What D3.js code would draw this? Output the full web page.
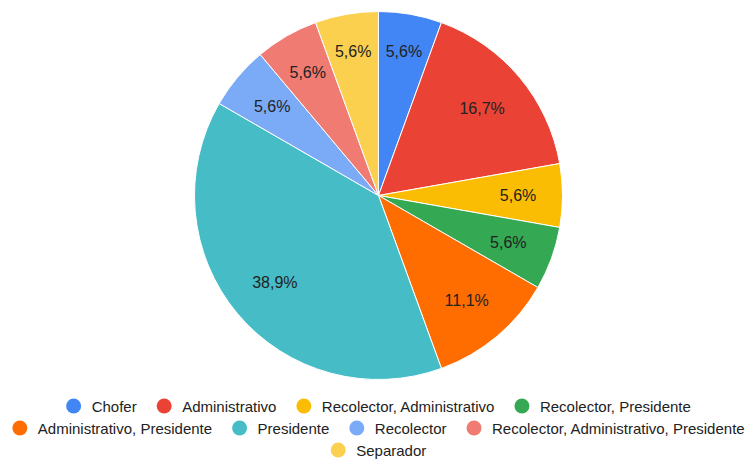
<!DOCTYPE html>
<html><head><meta charset="utf-8">
<script src="https://cdn.jsdelivr.net/npm/d3@7"></script>
<style>body{margin:0;background:#fff;}svg{display:block;font-family:"Liberation Sans",Arial,sans-serif;}</style>
</head><body>
<svg id="c" width="745" height="459"></svg>
<script>
const categories = ["Chofer","Administrativo","Recolector, Administrativo","Recolector, Presidente","Administrativo, Presidente","Presidente","Recolector","Recolector, Administrativo, Presidente","Separador"];
const values = [1,3,1,1,2,7,1,1,1];
const colors = ["#4285F4","#EA4335","#FBBC04","#34A853","#FF6D01","#46BDC6","#7BAAF7","#F07B72","#FCD04F"];

const W=745,H=459,cx=378.5,cy=195.5,R=184;
const svg=d3.select("#c");
const data=categories.map((c,i)=>({cat:c,v:values[i],col:colors[i]}));
const total=d3.sum(values);
const pie=d3.pie().value(d=>d.v).sort(null);
const arcs=pie(data);
const arc=d3.arc().innerRadius(0).outerRadius(R);
const g=svg.append("g").attr("transform",`translate(${cx},${cy})`);
g.selectAll("path").data(arcs).join("path").attr("d",arc).attr("fill",d=>d.data.col).attr("stroke","#fff").attr("stroke-width",1);
const fmt=v=>(v/total*100).toFixed(1).replace(".",",")+"%";
const lfs=16, D=R-26, hh=8;
const labels=g.selectAll("text").data(arcs).join("text")
 .attr("text-anchor","middle").attr("dominant-baseline","central")
 .attr("font-size",lfs).attr("fill","#222").text(d=>fmt(d.data.v));
labels.each(function(d){
  const hw=this.getComputedTextLength()/2;
  const a=(d.startAngle+d.endAngle)/2;
  const ux=Math.sin(a), uy=-Math.cos(a);
  const b=Math.abs(ux)*hw+Math.abs(uy)*hh;
  const c=hw*hw+hh*hh-D*D;
  const r=(-2*b+Math.sqrt(4*b*b-4*c))/2;
  d3.select(this).attr("transform",`translate(${ux*r},${uy*r})`);
});

// legend
const fs=15, cr=7.5, toff=18, gap=20, rowY=[406,428,450];
const meas=svg.append("text").attr("font-size",fs).attr("visibility","hidden");
const items=data.map(d=>{meas.text(d.cat);const tw=meas.node().getComputedTextLength();return {...d,w:cr+toff+tw};});
meas.remove();
const rows=[];let cur=[],cw=0;
items.forEach(it=>{const add=(cur.length?gap:0)+it.w;if(cur.length&&cw+add>W){rows.push(cur);cur=[it];cw=it.w;}else{cur.push(it);cw+=add;}});
if(cur.length)rows.push(cur);
const lg=svg.append("g");
rows.forEach((row,ri)=>{
  const rw=d3.sum(row,d=>d.w)+gap*(row.length-1);
  let x=cx-rw/2;
  row.forEach(it=>{
    lg.append("circle").attr("cx",x+cr).attr("cy",rowY[ri]).attr("r",cr).attr("fill",it.col);
    lg.append("text").attr("x",x+cr+toff).attr("y",rowY[ri]).attr("dominant-baseline","central").attr("font-size",fs).attr("fill","#222").text(it.cat);
    x+=it.w+gap;
  });
});
</script>
</body></html>
